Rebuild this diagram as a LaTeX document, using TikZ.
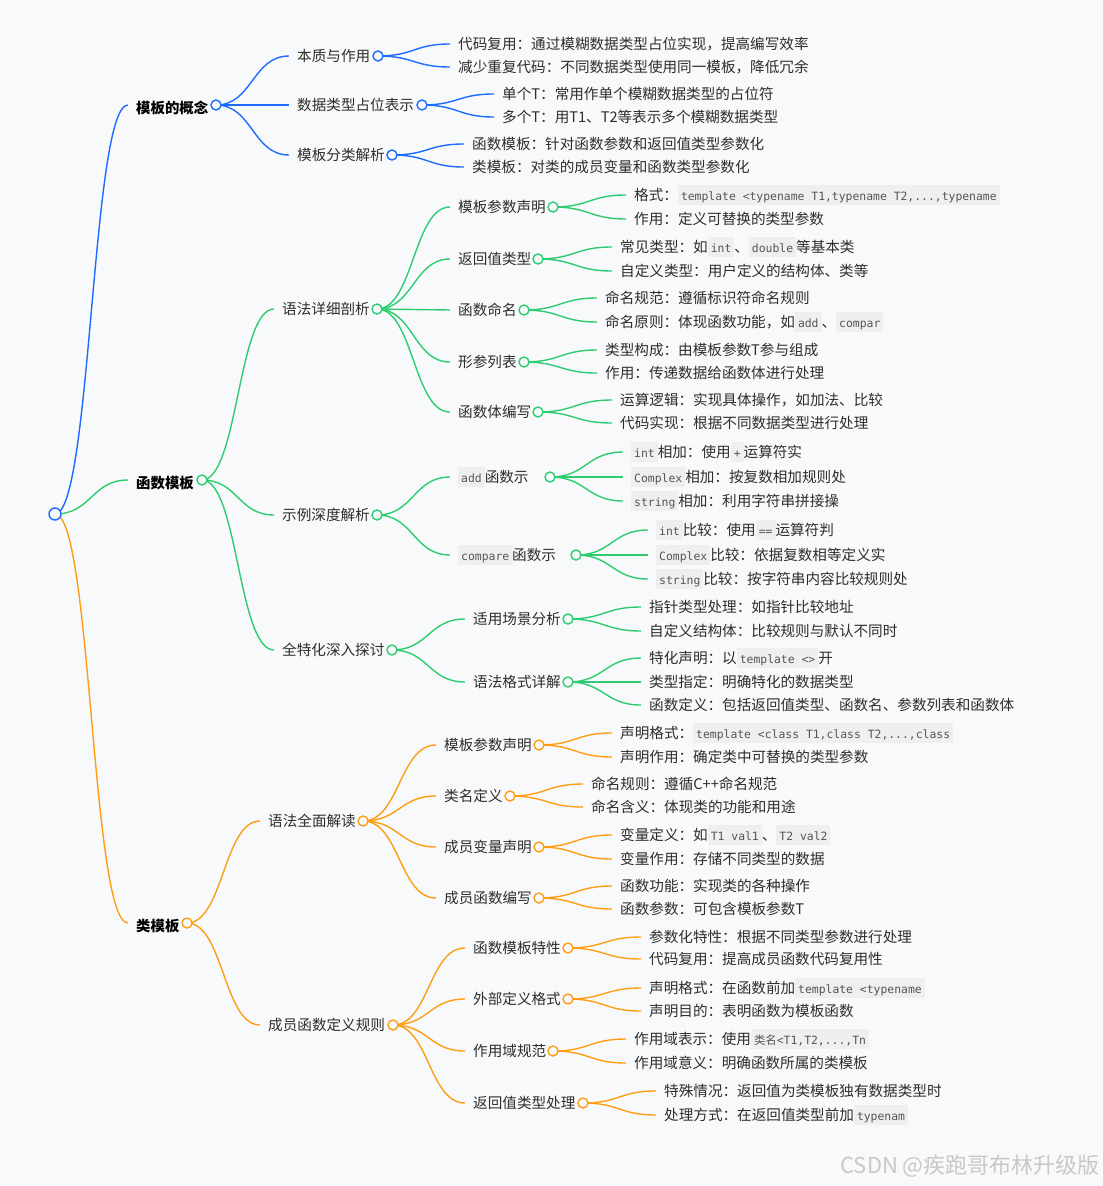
\documentclass[tikz,border=0pt]{standalone}
\usepackage{fontspec}
\setmainfont{Noto Sans CJK SC}
\newfontfamily\codefont{DejaVu Sans Mono}
\usetikzlibrary{calc}
\definecolor{bgc}{RGB}{248,249,251}
\definecolor{blueL}{RGB}{30,108,255}
\definecolor{greenL}{RGB}{46,204,113}
\definecolor{orangeL}{RGB}{255,158,20}
\definecolor{txtc}{RGB}{45,45,45}
\definecolor{codebg}{RGB}{239,239,239}
\definecolor{codefg}{RGB}{85,85,85}
\definecolor{wmc}{RGB}{200,200,200}
\newcommand{\cd}[1]{{\fboxsep=0pt\colorbox{codebg}{\rule[-4.5pt]{0pt}{20pt}\hspace{3pt}{\codefont\fontsize{11.4}{14}\selectfont\color{codefg}#1}\hspace{3pt}}}}
\pgfdeclarelayer{bg}
\pgfsetlayers{bg,main}
\tikzset{
 conn/.style={line width=1.4pt, to path={let \p1=(\tikztostart), \p2=(\tikztotarget) in .. controls ({0.5*\x1+0.5*\x2},\y1) and ({0.5*\x1+0.5*\x2},\y2) .. (\tikztotarget)}},
 lbl/.style={anchor=west, inner xsep=8pt, inner ysep=0pt, text height=13pt, text depth=2pt, font=\fontsize{14.6}{17}\selectfont, text=txtc},
 lvlone/.style={lbl, text height=19pt, font=\fontsize{14.4}{17}\selectfont\bfseries, text=black},
 hub/.style={circle, draw=#1, fill=bgc, minimum size=10pt, inner sep=0pt, line width=1.4pt},
 lb/.style={conn, draw=blueL},
 lg/.style={conn, draw=greenL},
 lo/.style={conn, draw=orangeL},
}
\begin{document}
\begin{tikzpicture}[x=1pt,y=-1pt]
\begin{pgfonlayer}{bg}
\fill[bgc] (0,0) rectangle (1103,1186);
\end{pgfonlayer}
\useasboundingbox (0,0) rectangle (1103,1186);

% root
\node[hub=blueL, minimum size=12pt] (r) at (55,514) {};

% ===== blue branch =====
\node[lvlone] (a) at (128,105) {模板的概念};
\node[hub=blueL] (ca) at (216,105) {};
\node[lbl] (a1) at (289,56) {本质与作用};
\node[hub=blueL] (ca1) at (378,56) {};
\node[lbl] (a2) at (289,105) {数据类型占位表示};
\node[hub=blueL] (ca2) at (422,105) {};
\node[lbl] (a3) at (289,155) {模板分类解析};
\node[hub=blueL] (ca3) at (392,155) {};
\node[lbl] (a11) at (450,44) {代码复用：通过模糊数据类型占位实现，提高编写效率};
\node[lbl] (a12) at (450,67) {减少重复代码：不同数据类型使用同一模板，降低冗余};
\node[lbl] (a21) at (494,94) {单个T：常用作单个模糊数据类型的占位符};
\node[lbl] (a22) at (494,117) {多个T：用T1、T2等表示多个模糊数据类型};
\node[lbl] (a31) at (464,144) {函数模板：针对函数参数和返回值类型参数化};
\node[lbl] (a32) at (464,167) {类模板：对类的成员变量和函数类型参数化};

% ===== green branch =====
\node[lvlone] (b) at (128,480) {函数模板};
\node[hub=greenL] (cb) at (202,480) {};
\node[lbl] (b1) at (274,309) {语法详细剖析};
\node[hub=greenL] (cb1) at (377,309) {};
\node[lbl] (b2) at (274,515) {示例深度解析};
\node[hub=greenL] (cb2) at (377,515) {};
\node[lbl] (b3) at (274,650) {全特化深入探讨};
\node[hub=greenL] (cb3) at (392,650) {};

\node[lbl] (b11) at (450,207) {模板参数声明};
\node[hub=greenL] (cb11) at (553,207) {};
\node[lbl] (b12) at (450,259) {返回值类型};
\node[hub=greenL] (cb12) at (538,259) {};
\node[lbl] (b13) at (450,310) {函数命名};
\node[hub=greenL] (cb13) at (524,310) {};
\node[lbl] (b14) at (450,362) {形参列表};
\node[hub=greenL] (cb14) at (524,362) {};
\node[lbl] (b15) at (450,412) {函数体编写};
\node[hub=greenL] (cb15) at (538,412) {};

\node[lbl] (b111) at (626,195) {格式：\cd{template <typename T1,typename T2,...,typename}};
\node[lbl] (b112) at (626,219) {作用：定义可替换的类型参数};
\node[lbl] (b121) at (612,247) {常见类型：如\cd{int}、\cd{double}等基本类};
\node[lbl] (b122) at (612,271) {自定义类型：用户定义的结构体、类等};
\node[lbl] (b131) at (597,298) {命名规范：遵循标识符命名规则};
\node[lbl] (b132) at (597,322) {命名原则：体现函数功能，如\cd{add}、\cd{compar}};
\node[lbl] (b141) at (597,350) {类型构成：由模板参数T参与组成};
\node[lbl] (b142) at (597,373) {作用：传递数据给函数体进行处理};
\node[lbl] (b151) at (612,400) {运算逻辑：实现具体操作，如加法、比较};
\node[lbl] (b152) at (612,423) {代码实现：根据不同数据类型进行处理};

\node[lbl] (b21) at (450,477) {\cd{add}函数示};
\node[hub=greenL] (cb21) at (550,477) {};
\node[lbl] (b22) at (450,555) {\cd{compare}函数示};
\node[hub=greenL] (cb22) at (576,555) {};
\node[lbl] (b211) at (623,452) {\cd{int}相加：使用\cd{+}运算符实};
\node[lbl] (b212) at (623,477) {\cd{Complex}相加：按复数相加规则处};
\node[lbl] (b213) at (623,501) {\cd{string}相加：利用字符串拼接操};
\node[lbl] (b221) at (648,530) {\cd{int}比较：使用\cd{==}运算符判};
\node[lbl] (b222) at (648,555) {\cd{Complex}比较：依据复数相等定义实};
\node[lbl] (b223) at (648,579) {\cd{string}比较：按字符串内容比较规则处};

\node[lbl] (b31) at (465,619) {适用场景分析};
\node[hub=greenL] (cb31) at (568,619) {};
\node[lbl] (b32) at (465,682) {语法格式详解};
\node[hub=greenL] (cb32) at (568,682) {};
\node[lbl] (b311) at (641,607) {指针类型处理：如指针比较地址};
\node[lbl] (b312) at (641,631) {自定义结构体：比较规则与默认不同时};
\node[lbl] (b321) at (641,658) {特化声明：以\cd{template <>}开};
\node[lbl] (b322) at (641,682) {类型指定：明确特化的数据类型};
\node[lbl] (b323) at (641,705) {函数定义：包括返回值类型、函数名、参数列表和函数体};

% ===== orange branch =====
\node[lvlone] (c) at (128,923) {类模板};
\node[hub=orangeL] (cc) at (187,923) {};
\node[lbl] (c1) at (260,821) {语法全面解读};
\node[hub=orangeL] (cc1) at (363,821) {};
\node[lbl] (c2) at (260,1025) {成员函数定义规则};
\node[hub=orangeL] (cc2) at (393,1025) {};

\node[lbl] (c11) at (436,745) {模板参数声明};
\node[hub=orangeL] (cc11) at (539,745) {};
\node[lbl] (c12) at (436,796) {类名定义};
\node[hub=orangeL] (cc12) at (510,796) {};
\node[lbl] (c13) at (436,847) {成员变量声明};
\node[hub=orangeL] (cc13) at (539,847) {};
\node[lbl] (c14) at (436,898) {成员函数编写};
\node[hub=orangeL] (cc14) at (539,898) {};

\node[lbl] (c111) at (612,733) {声明格式：\cd{template <class T1,class T2,...,class}};
\node[lbl] (c112) at (612,757) {声明作用：确定类中可替换的类型参数};
\node[lbl] (c121) at (583,784) {命名规则：遵循C++命名规范};
\node[lbl] (c122) at (583,807) {命名含义：体现类的功能和用途};
\node[lbl] (c131) at (612,835) {变量定义：如\cd{T1 val1}、\cd{T2 val2}};
\node[lbl] (c132) at (612,859) {变量作用：存储不同类型的数据};
\node[lbl] (c141) at (612,886) {函数功能：实现类的各种操作};
\node[lbl] (c142) at (612,909) {函数参数：可包含模板参数T};

\node[lbl] (c21) at (465,948) {函数模板特性};
\node[hub=orangeL] (cc21) at (568,948) {};
\node[lbl] (c22) at (465,999) {外部定义格式};
\node[hub=orangeL] (cc22) at (568,999) {};
\node[lbl] (c23) at (465,1051) {作用域规范};
\node[hub=orangeL] (cc23) at (553,1051) {};
\node[lbl] (c24) at (465,1103) {返回值类型处理};
\node[hub=orangeL] (cc24) at (583,1103) {};

\node[lbl] (c211) at (641,937) {参数化特性：根据不同类型参数进行处理};
\node[lbl] (c212) at (641,959) {代码复用：提高成员函数代码复用性};
\node[lbl] (c221) at (641,988) {声明格式：在函数前加\cd{template <typename}};
\node[lbl] (c222) at (641,1011) {声明目的：表明函数为模板函数};
\node[lbl] (c231) at (626,1039) {作用域表示：使用\cd{{\rmfamily 类名}<T1,T2,...,Tn}};
\node[lbl] (c232) at (626,1063) {作用域意义：明确函数所属的类模板};
\node[lbl] (c241) at (656,1091) {特殊情况：返回值为类模板独有数据类型时};
\node[lbl] (c242) at (656,1115) {处理方式：在返回值类型前加\cd{typenam}};

% watermark
\node[anchor=east, inner sep=0pt, font=\fontsize{22}{24}\selectfont, text=wmc] (wmk) at (1100,1166) {CSDN @疾跑哥布林升级版};

% ===== connectors =====
\begin{pgfonlayer}{bg}
\draw[lb] (r.center) to (a.west);
\draw[lg] (r.center) to (b.west);
\draw[lo] (r.center) to (c.west);

\draw[lb] (ca.center) to (a1.west);
\draw[lb] (ca.center) to (a2.west);
\draw[lb] (ca.center) to (a3.west);
\draw[lb] (ca1.center) to (a11.west);
\draw[lb] (ca1.center) to (a12.west);
\draw[lb] (ca2.center) to (a21.west);
\draw[lb] (ca2.center) to (a22.west);
\draw[lb] (ca3.center) to (a31.west);
\draw[lb] (ca3.center) to (a32.west);

\draw[lg] (cb.center) to (b1.west);
\draw[lg] (cb.center) to (b2.west);
\draw[lg] (cb.center) to (b3.west);
\draw[lg] (cb1.center) to (b11.west);
\draw[lg] (cb1.center) to (b12.west);
\draw[lg] (cb1.center) to (b13.west);
\draw[lg] (cb1.center) to (b14.west);
\draw[lg] (cb1.center) to (b15.west);
\draw[lg] (cb11.center) to (b111.west);
\draw[lg] (cb11.center) to (b112.west);
\draw[lg] (cb12.center) to (b121.west);
\draw[lg] (cb12.center) to (b122.west);
\draw[lg] (cb13.center) to (b131.west);
\draw[lg] (cb13.center) to (b132.west);
\draw[lg] (cb14.center) to (b141.west);
\draw[lg] (cb14.center) to (b142.west);
\draw[lg] (cb15.center) to (b151.west);
\draw[lg] (cb15.center) to (b152.west);
\draw[lg] (cb2.center) to (b21.west);
\draw[lg] (cb2.center) to (b22.west);
\draw[lg] (cb21.center) to (b211.west);
\draw[lg] (cb21.center) to (b212.west);
\draw[lg] (cb21.center) to (b213.west);
\draw[lg] (cb22.center) to (b221.west);
\draw[lg] (cb22.center) to (b222.west);
\draw[lg] (cb22.center) to (b223.west);
\draw[lg] (cb3.center) to (b31.west);
\draw[lg] (cb3.center) to (b32.west);
\draw[lg] (cb31.center) to (b311.west);
\draw[lg] (cb31.center) to (b312.west);
\draw[lg] (cb32.center) to (b321.west);
\draw[lg] (cb32.center) to (b322.west);
\draw[lg] (cb32.center) to (b323.west);

\draw[lo] (cc.center) to (c1.west);
\draw[lo] (cc.center) to (c2.west);
\draw[lo] (cc1.center) to (c11.west);
\draw[lo] (cc1.center) to (c12.west);
\draw[lo] (cc1.center) to (c13.west);
\draw[lo] (cc1.center) to (c14.west);
\draw[lo] (cc11.center) to (c111.west);
\draw[lo] (cc11.center) to (c112.west);
\draw[lo] (cc12.center) to (c121.west);
\draw[lo] (cc12.center) to (c122.west);
\draw[lo] (cc13.center) to (c131.west);
\draw[lo] (cc13.center) to (c132.west);
\draw[lo] (cc14.center) to (c141.west);
\draw[lo] (cc14.center) to (c142.west);
\draw[lo] (cc2.center) to (c21.west);
\draw[lo] (cc2.center) to (c22.west);
\draw[lo] (cc2.center) to (c23.west);
\draw[lo] (cc2.center) to (c24.west);
\draw[lo] (cc21.center) to (c211.west);
\draw[lo] (cc21.center) to (c212.west);
\draw[lo] (cc22.center) to (c221.west);
\draw[lo] (cc22.center) to (c222.west);
\draw[lo] (cc23.center) to (c231.west);
\draw[lo] (cc23.center) to (c232.west);
\draw[lo] (cc24.center) to (c241.west);
\draw[lo] (cc24.center) to (c242.west);
\end{pgfonlayer}
\end{tikzpicture}
\end{document}
